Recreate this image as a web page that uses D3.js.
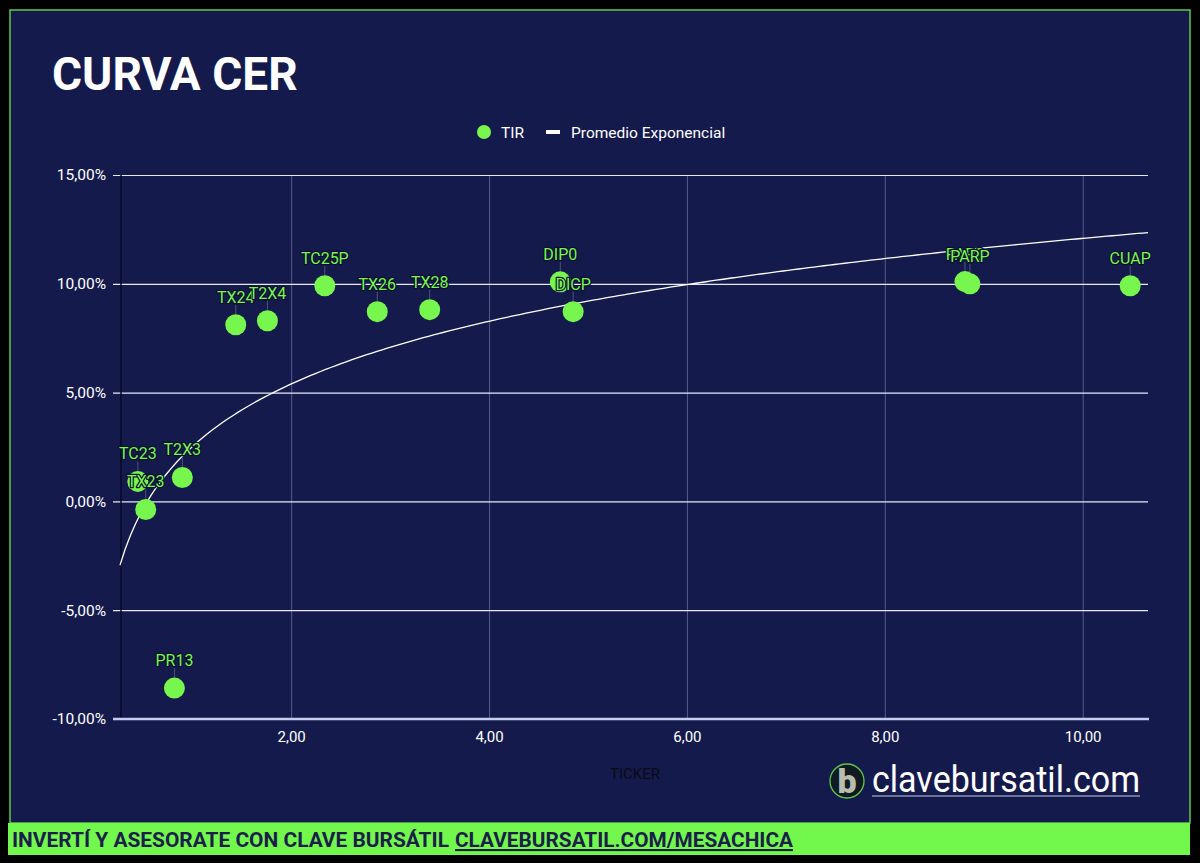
<html lang="es">
<head>
<meta charset="utf-8">
<title>Curva CER</title>
<script src="https://cdn.jsdelivr.net/npm/d3@7"></script>
<style>
  body { margin: 0; background: #000; }
  svg text { font-family: Roboto, "Noto Sans", sans-serif; }
</style>
</head>
<body>
<script>
// datos
var tickers = ["PR13", "TC23", "TX23", "T2X3", "TX24", "T2X4", "TC25P", "TX26", "TX28", "DIP0", "DICP", "PAP0", "PARP", "CUAP"];
var duration = [0.82, 0.45, 0.53, 0.90, 1.44, 1.76, 2.34, 2.87, 3.40, 4.72, 4.85, 8.81, 8.86, 10.48];
var tir = [-8.58, 0.92, -0.37, 1.10, 8.12, 8.30, 9.91, 8.72, 8.81, 10.09, 8.72, 10.10, 10.00, 9.91];
var yTicks = [-10, -5, 0, 5, 10, 15];
var xTicks = [2, 4, 6, 8, 10];

var w = 1200, h = 863;
var navy = "#151a4d", green = "#77f74e";

var svg = d3.select("body").append("svg")
  .attr("width", w).attr("height", h);

svg.append("rect").attr("width", w).attr("height", h).attr("fill", "#000");
svg.append("rect")
  .attr("x", 10).attr("y", 10).attr("width", 1180).attr("height", 813)
  .attr("fill", navy).attr("stroke", "#5fc84a").attr("stroke-width", 1.5);
svg.append("rect")
  .attr("x", 8).attr("y", 823).attr("width", 1182).attr("height", 32)
  .attr("fill", "#72f74c");

// titulo
svg.append("text")
  .attr("x", 52).attr("y", 90)
  .attr("font-size", 46).attr("font-weight", 700).attr("fill", "#fff")
  .text("CURVA CER");

var es = d3.formatLocale({decimal: ",", thousands: ".", grouping: [3], currency: ["$", ""], minus: "-"});
var fmt = es.format(".2f");

var xScale = d3.scaleLinear().domain([0.27, 10.66]).range([120, 1148]);
var yScale = d3.scaleLinear().domain([-10, 15]).range([719, 175]);

// grilla vertical + etiquetas x
var gX = svg.append("g")
  .attr("transform", "translate(0,719)")
  .call(d3.axisBottom(xScale).tickValues(xTicks).tickFormat(fmt)
    .tickSize(-(719 - 175)).tickPadding(12));
gX.select(".domain").remove();
gX.selectAll("line").attr("stroke", "#8a90c0").attr("stroke-opacity", 0.55);
gX.selectAll("text").attr("fill", "#fff").attr("font-size", 15)
  .attr("font-family", "Roboto, sans-serif");

// grilla horizontal + etiquetas y
var gY = svg.append("g")
  .attr("transform", "translate(113,0)")
  .call(d3.axisLeft(yScale).tickValues(yTicks).tickFormat(function(d) { return fmt(d) + "%"; })
    .tickSize(-(1148 - 113)).tickPadding(7));
gY.select(".domain").remove();
gY.selectAll("line").attr("stroke", "#e6e8f8").attr("stroke-width", 1.2);
gY.selectAll("text").attr("fill", "#fff").attr("font-size", 15.5)
  .attr("font-family", "Roboto, sans-serif");

// linea eje y oscura y eje x claro
svg.append("line")
  .attr("x1", 121).attr("x2", 121).attr("y1", 175).attr("y2", 719)
  .attr("stroke", "#080a24").attr("stroke-width", 1.5);
svg.append("line")
  .attr("x1", 113).attr("x2", 1149).attr("y1", 719).attr("y2", 719)
  .attr("stroke", "#c8cdf0").attr("stroke-width", 2.5);

svg.append("text")
  .attr("x", 635).attr("y", 779).attr("text-anchor", "middle")
  .attr("font-size", 15).attr("fill", "#0a0a14")
  .text("TICKER");

// linea de tendencia logaritmica calculada con los datos
var lx = duration.map(Math.log);
var mx = d3.mean(lx), my = d3.mean(tir);
var sxy = d3.sum(lx, function(v, i) { return (v - mx) * (tir[i] - my); });
var sxx = d3.sum(lx, function(v) { return (v - mx) * (v - mx); });
var b = sxy / sxx, a = my - b * mx;
var trendX = d3.range(0, 201).map(function(i) {
  return xScale.domain()[0] + (xScale.domain()[1] - xScale.domain()[0]) * i / 200;
});
var trendLine = d3.line()
  .x(function(d) { return xScale(d); })
  .y(function(d) { return yScale(a + b * Math.log(d)); });
svg.append("path")
  .attr("d", trendLine(trendX))
  .attr("fill", "none").attr("stroke", "#fff").attr("stroke-width", 1.3);

// puntos
var data = tickers.map(function(t, i) { return {t: t, x: duration[i], y: tir[i]}; });

svg.selectAll("line.conn").data(data).enter().append("line")
  .attr("class", "conn")
  .attr("x1", function(d) { return xScale(d.x); })
  .attr("x2", function(d) { return xScale(d.x); })
  .attr("y1", function(d) { return yScale(d.y) - 20; })
  .attr("y2", function(d) { return yScale(d.y) - 10; })
  .attr("stroke", "#9aa0b8").attr("stroke-width", 0.6).attr("stroke-opacity", 0.7);

svg.selectAll("circle.pt").data(data).enter().append("circle")
  .attr("class", "pt")
  .attr("cx", function(d) { return xScale(d.x); })
  .attr("cy", function(d) { return yScale(d.y); })
  .attr("r", 10.5)
  .attr("fill", green);

svg.selectAll("text.lbl").data(data).enter().append("text")
  .attr("class", "lbl")
  .attr("x", function(d) { return xScale(d.x); })
  .attr("y", function(d) { return yScale(d.y) - 22; })
  .attr("text-anchor", "middle")
  .attr("font-size", 16)
  .attr("fill", green)
  .attr("stroke", "#0c1030").attr("stroke-width", 2.5)
  .attr("paint-order", "stroke")
  .attr("stroke-linejoin", "round")
  .text(function(d) { return d.t; });

// leyenda
svg.append("circle").attr("cx", 484).attr("cy", 132).attr("r", 7).attr("fill", green);
svg.append("text").attr("x", 501).attr("y", 137.5).attr("font-size", 15.5).attr("fill", "#fff").text("TIR");
svg.append("rect").attr("x", 546).attr("y", 130).attr("width", 14).attr("height", 4).attr("fill", "#fff");
svg.append("text").attr("x", 571).attr("y", 137.5).attr("font-size", 15.5).attr("fill", "#fff").text("Promedio Exponencial");

// logo
svg.append("circle").attr("cx", 847).attr("cy", 781).attr("r", 17)
  .attr("fill", "#0f1a22").attr("stroke", "#5fc84a").attr("stroke-width", 1.3);
svg.append("text").attr("x", 847).attr("y", 793).attr("text-anchor", "middle")
  .attr("font-size", 34).attr("font-weight", 900).attr("fill", "#b9bdb0")
  .attr("font-family", "Lato, sans-serif").text("b");
svg.append("text").attr("x", 872).attr("y", 792)
  .attr("font-size", 36).attr("font-weight", 400).attr("fill", "#fff")
  .attr("font-family", "Lato, sans-serif")
  .attr("textLength", 268).attr("lengthAdjust", "spacingAndGlyphs")
  .text("clavebursatil.com");
svg.append("line").attr("x1", 872).attr("x2", 1140).attr("y1", 796).attr("y2", 796)
  .attr("stroke", "#8a8fb0").attr("stroke-width", 1.5);

// pie
svg.append("text").attr("x", 12).attr("y", 847)
  .attr("font-size", 21).attr("font-weight", 700).attr("fill", "#1b1e4a")
  .attr("textLength", 437).attr("lengthAdjust", "spacingAndGlyphs")
  .text("INVERTÍ Y ASESORATE CON CLAVE BURSÁTIL");
svg.append("text").attr("x", 455).attr("y", 847)
  .attr("font-size", 21).attr("font-weight", 700).attr("fill", "#1b1e4a")
  .attr("textLength", 338).attr("lengthAdjust", "spacingAndGlyphs")
  .attr("text-decoration", "underline")
  .text("CLAVEBURSATIL.COM/MESACHICA");
</script>
</body>
</html>
